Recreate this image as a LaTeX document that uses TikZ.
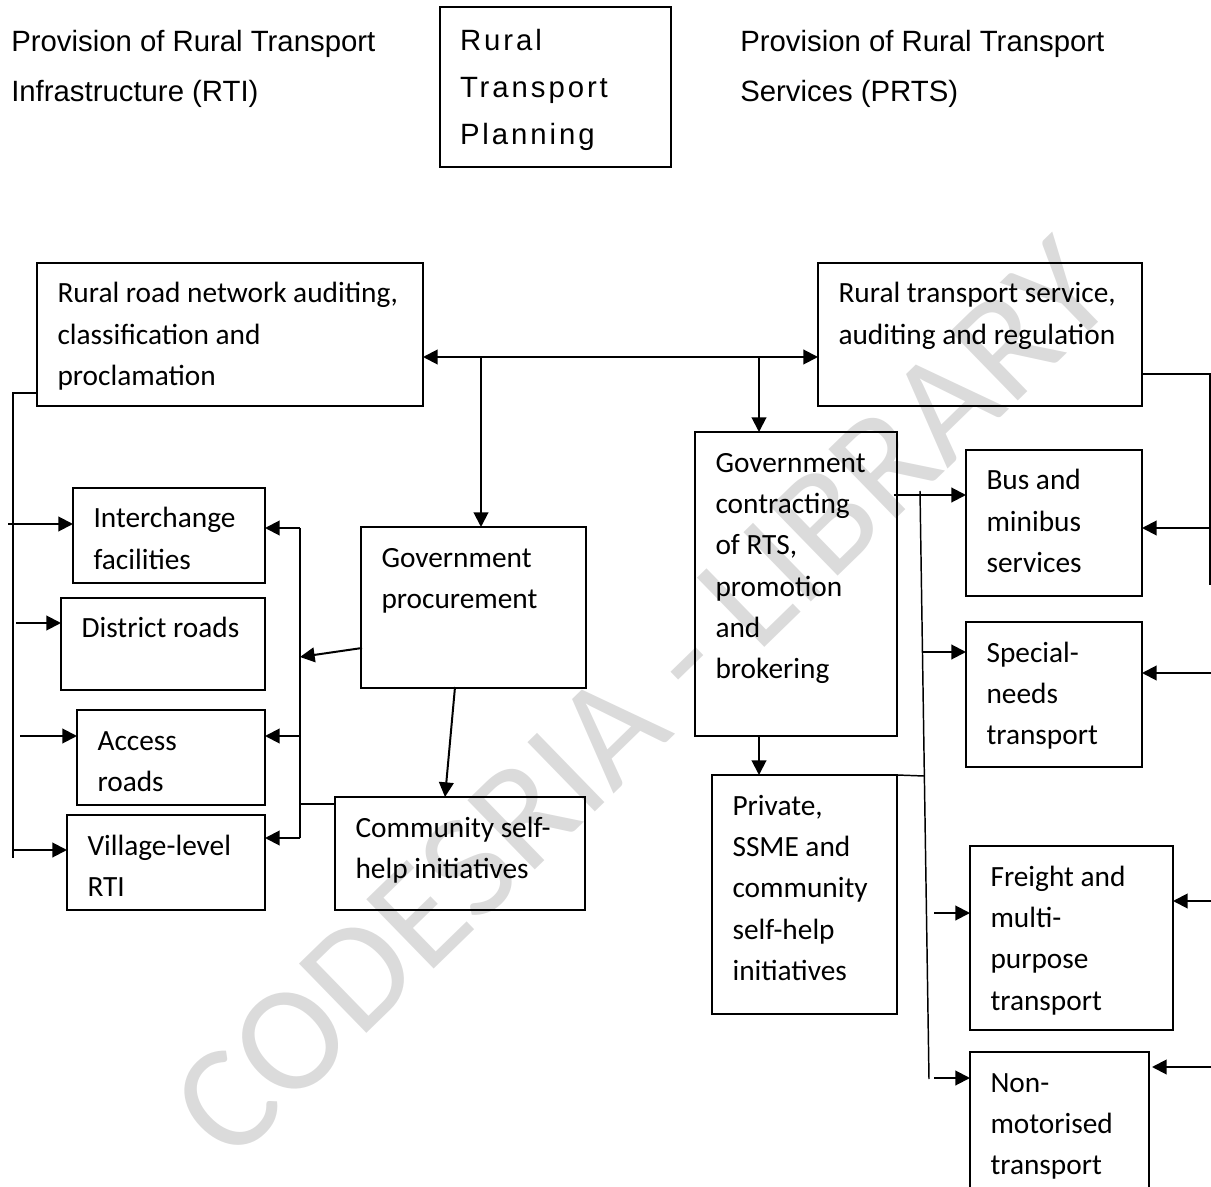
\documentclass[tikz,border=0pt]{standalone}
\usepackage{fontspec}
\setmainfont{Carlito}
\newfontfamily\headfont{Liberation Sans}
\newfontfamily\planfont[LetterSpace=10]{Liberation Sans}
\newfontfamily\markfont{Carlito}
\usetikzlibrary{arrows.meta}

% box contents: width and height in px, text set from the top-left corner
\newcommand\boxtxt[3]{%
  \parbox[c][\dimexpr #2pt*3/4\relax][t]{\dimexpr #1pt*3/4\relax}{%
    \raggedright\leftskip=15.4pt\fontsize{22}{31}\selectfont
    \rule{0pt}{30pt}#3}}

\tikzset{
  box/.style={draw, line width=1.5pt, inner sep=0pt, outer sep=0pt, anchor=north west},
  arr/.style={line width=1.5pt, -{Triangle[length=11pt,width=11pt]}},
  biarr/.style={line width=1.5pt, {Triangle[length=11pt,width=11pt]}-{Triangle[length=11pt,width=11pt]}},
  thinline/.style={line width=1.1pt},
  head/.style={inner sep=0pt, anchor=base west},
  wmark/.style={text=black!14, font=\markfont\fontsize{113}{113}\selectfont, rotate=44.2, inner sep=0pt},
}

\begin{document}
\begin{tikzpicture}[x=0.75pt, y=-0.75pt]
\useasboundingbox (0,0) rectangle (1211,1187);
\clip (0,0) rectangle (1211,1187);

% background watermark
\node[wmark] (wm) at (642,699) {CODESRIA - LIBRARY};

% header
\node[head] (hleft) at (11,52) {\parbox[t]{300pt}{\headfont\fontsize{22}{37.5}\selectfont
  Provision of Rural Transport\\Infrastructure (RTI)}};
\node[head] (hright) at (740,52) {\parbox[t]{300pt}{\headfont\fontsize{22}{37.5}\selectfont
  Provision of Rural Transport\\Services (PRTS)}};
\node[box, line width=1.1pt] (P) at (440,7) {\parbox[c][120pt][t]{173.25pt}{%
  \raggedright\leftskip=15pt\planfont\fontsize{22}{35}\selectfont
  \rule{0pt}{33pt}Rural\\Transport\\Planning}};

% infrastructure side
\node[box] (A) at (37,263) {\boxtxt{386}{143}{Rural road network auditing,\\classification and\\proclamation}};
\node[box] (J) at (73,488) {\boxtxt{192}{95}{Interchange\\facilities}};
\node[box] (K) at (61,598) {\boxtxt{204}{92}{District roads}};
\node[box] (L) at (77,710) {\boxtxt{188}{95}{Access\\roads}};
\node[box] (M) at (67,815) {\boxtxt{198}{95}{Village-level\\RTI}};
\node[box] (C) at (361,527) {\boxtxt{225}{161}{Government\\procurement}};
\node[box] (N) at (335,797) {\boxtxt{250}{113}{Community self-\\help initiatives}};

% services side
\node[box] (B) at (818,263) {\boxtxt{324}{143}{Rural transport service,\\auditing and regulation}};
\node[box] (D) at (695,432) {\boxtxt{202}{304}{Government\\contracting\\of RTS,\\promotion\\and\\brokering}};
\node[box] (E) at (712,775) {\boxtxt{185}{239}{Private,\\SSME and\\community\\self-help\\initiatives}};
\node[box] (F) at (966,450) {\boxtxt{176}{146}{Bus and\\minibus\\services}};
\node[box] (G) at (966,622) {\boxtxt{176}{145}{Special-\\needs\\transport}};
\node[box] (H) at (970,846) {\boxtxt{203}{184}{Freight and\\multi-\\purpose\\transport}};
\node[box] (I) at (970,1052) {\boxtxt{179}{150}{Non-\\motorised\\transport}};

% central links between the two auditing boxes
\coordinate (hL) at (481,357);
\coordinate (hR) at (759,357);
\draw[biarr] (A.east |- hL) -- (B.west |- hR);
\draw[arr] (hL) -- (hL |- C.north);
\draw[arr] (hR) -- (hR |- D.north);
\draw[arr] (hR |- D.south) -- (hR |- E.north);

% left trunk from the auditing box
\coordinate (lt) at (13,393);
\coordinate (lb) at (13,858);
\draw[thinline, line width=1.4pt] (A.west |- lt) -- (lt) -- (lb);
\coordinate (lJ) at (8,524);
\coordinate (lK) at (16,623);
\coordinate (lL) at (20,736);
\coordinate (lM) at (13,850);
\draw[arr] (lJ) -- (lJ -| J.west);
\draw[arr] (lK) -- (lK -| K.west);
\draw[arr] (lL) -- (lL -| L.west);
\draw[arr] (lM) -- (lM -| M.west);

% procurement trunk
\coordinate (v1) at (300,528);
\coordinate (v3) at (300,736);
\coordinate (v4) at (300,838);
\coordinate (vC) at (300,657);
\coordinate (vN) at (300,804);
\coordinate (cW) at (362,648);
\coordinate (cS) at (455,687);
\coordinate (nT) at (445,797);
\draw[line width=1.4pt] (v1) -- (v4);
\draw[arr] (v1) -- (v1 -| J.east);
\draw[arr] (v3) -- (v3 -| L.east);
\draw[arr] (v4) -- (v4 -| M.east);
\draw[arr] (cW) -- (vC);
\draw[thinline] (vN -| N.west) -- (vN);
\draw[arr] (cS) -- (nT);

% contracting trunk
\coordinate (dF) at (894,495);
\coordinate (bt) at (920,491);
\coordinate (bb) at (929,1079);
\coordinate (bG) at (922,652);
\coordinate (bE) at (924,776);
\coordinate (bH) at (934,913);
\coordinate (bI) at (934,1078);
\draw[arr] (dF) -- (dF -| F.west);
\draw[thinline] (bt) -- (bb);
\draw[arr] (bG) -- (bG -| G.west);
\draw[thinline] (E.north east) -- (bE);
\draw[arr] (bH) -- (bH -| H.west);
\draw[arr] (bI) -- (bI -| I.west);

% regulation trunk on the right
\coordinate (rt) at (1210,374);
\coordinate (rb) at (1210,585);
\coordinate (rF) at (1210,528);
\coordinate (rG) at (1212,673);
\coordinate (rH) at (1212,901);
\coordinate (rI) at (1212,1067);
\coordinate (iI) at (1152,1067);
\draw[thinline] (B.east |- rt) -- (rt) -- (rb);
\draw[arr] (rF) -- (rF -| F.east);
\draw[arr] (rG) -- (rG -| G.east);
\draw[arr] (rH) -- (rH -| H.east);
\draw[arr] (rI) -- (iI);
\end{tikzpicture}
\end{document}
